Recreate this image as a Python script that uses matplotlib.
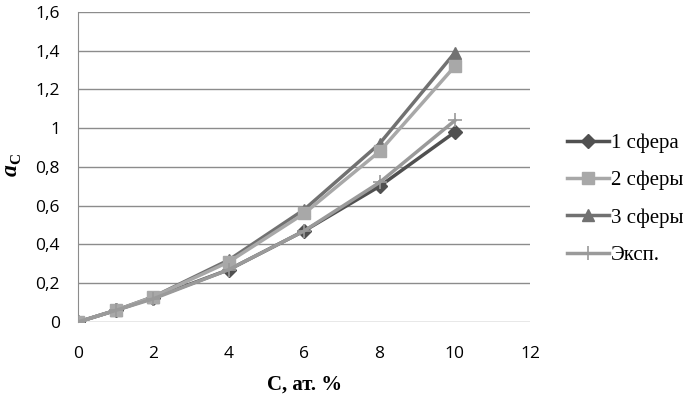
import matplotlib.pyplot as plt

# concentration C, at. %
conc = [0, 1, 2, 4, 6, 8, 10]

sphere1 = [0, 0.06, 0.125, 0.27, 0.47, 0.70, 0.98]
sphere2 = [0, 0.06, 0.13, 0.31, 0.56, 0.88, 1.32]
sphere3 = [0, 0.06, 0.13, 0.32, 0.58, 0.92, 1.39]
exper = [0, 0.06, 0.12, 0.27, 0.47, 0.72, 1.04]

labels = ['1 сфера', '2 сферы', '3 сферы', 'Эксп.']

xticks = [0, 2, 4, 6, 8, 10, 12]
yticks = [0, 0.2, 0.4, 0.6, 0.8, 1, 1.2, 1.4, 1.6]
ytick_labels = ['0', '0,2', '0,4', '0,6', '0,8', '1', '1,2', '1,4', '1,6']

fig = plt.figure(figsize=(6.99, 3.99), dpi=100)
ax = fig.add_axes([0.1116, 0.193, 0.647, 0.777])

ax.plot(conc, sphere1, color='#505050', lw=2.5, marker='D', ms=7, label=labels[0], zorder=3)
ax.plot(conc, sphere2, color='#a8a8a8', lw=2.5, marker='s', ms=8, label=labels[1], zorder=4)
ax.plot(conc, sphere3, color='#717171', lw=2.5, marker='^', ms=9, label=labels[2], zorder=3)
ax.plot(conc, exper, color='#9a9a9a', lw=2.5, marker='+', ms=10, mew=1.2, label=labels[3], zorder=5)

ax.set_xlim(0, 12)
ax.set_ylim(0, 1.6)
ax.set_xticks(xticks)
ax.set_yticks(yticks)
ax.set_yticklabels(ytick_labels)
ax.tick_params(axis='x', length=0, labelsize=12.5, pad=17)
ax.tick_params(axis='y', length=0, labelsize=12.5, pad=13)
for lab in ax.get_xticklabels() + ax.get_yticklabels():
    lab.set_family('Open Sans')

ax.yaxis.grid(True, color='#8c8c8c', lw=1)
ax.set_axisbelow(True)
for s in ['top', 'right', 'bottom']:
    ax.spines[s].set_visible(False)
ax.spines['left'].set_color('#8c8c8c')

ax.set_xlabel('C, ат. %', family='Liberation Serif', fontsize=15, fontweight='bold', labelpad=9)

# y label a_C, drawn as two pieces (rotated)
fig.text(0.016, 0.573, 'a', family='Liberation Serif', fontsize=17, fontweight='bold',
         style='italic', rotation=90, ha='center', va='center')
fig.text(0.024, 0.603, 'C', family='Liberation Serif', fontsize=11, fontweight='bold',
         rotation=90, ha='center', va='center')

fig.legend(loc='center left', bbox_to_anchor=(0.811, 0.501), frameon=False,
           prop={'family': 'Liberation Serif', 'size': 15}, labelspacing=0.85,
           handlelength=2.0, handletextpad=0.1, borderpad=0, borderaxespad=0)

fig.savefig('out.png', dpi=100)
